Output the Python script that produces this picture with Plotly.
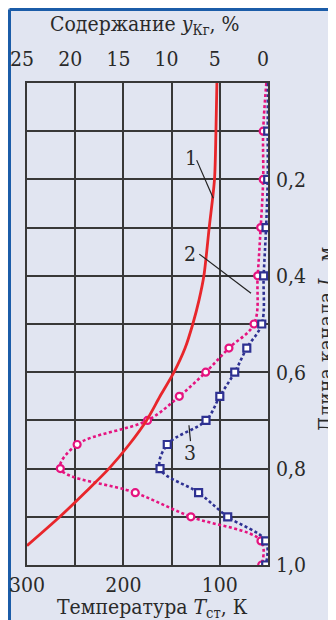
import plotly.graph_objects as go

# ---------------- data ----------------
# Curve 1: content y_Kr (%) vs channel length L (m)  -> top axis
L1 = [0.0, 0.1, 0.2, 0.3, 0.4, 0.45, 0.5, 0.55, 0.6, 0.65, 0.7, 0.75, 0.8, 0.85, 0.9, 0.96]
PCT1 = [5.3, 5.4, 5.55, 6.1, 6.65, 7.15, 7.8, 8.6, 9.75, 11.2, 12.6, 14.4, 16.5, 19.0, 21.6, 25.0]

# Curves 2 and 3: wall temperature T_st (K) vs L (m) -> bottom axis
L_pts = [0.1, 0.2, 0.3, 0.4, 0.5, 0.55, 0.6, 0.65, 0.7, 0.75, 0.8, 0.85, 0.9, 0.95, 1.0]
T2 = [55, 55, 57.6, 60.7, 64.5, 90.5, 114.6, 142, 175, 248, 265.4, 187.7, 130, 57.3, 56.5]
T3 = [50.3, 50.3, 52, 54.5, 56.5, 72, 84.5, 100, 114.3, 154.5, 162, 122, 91.8, 52.4, 52.4]
L_start = 0.0
T2_start = 51.7
T3_start = 50.0

T_ticks = [300, 250, 200, 150, 100, 50]
T_labels = ["300", "", "200", "", "100", ""]
Y_ticks = [25, 20, 15, 10, 5, 0]
Y_labels = ["25", "20", "15", "10", "5", "0"]
L_ticks = [0.0, 0.1, 0.2, 0.3, 0.4, 0.5, 0.6, 0.7, 0.8, 0.9, 1.0]
L_labels = ["", "", "0,2", "", "0,4", "", "0,6", "", "0,8", "", "1,0"]

# ---------------- layout geometry (window pixels) ----------------
OFF = 8                                    # default page body margin
PX_L, PX_R, PX_T, PX_B = 27, 268, 83, 565  # plot area in the 336x620 window
W, H = 336 - OFF, 620 - OFF
ML, MR, MT, MB = PX_L - OFF, OFF + W - PX_R, PX_T - OFF, OFF + H - PX_B

BG = "#E1E5F1"
GRID = "#383838"
TXT = "#2a2a2a"
RED = "#E8262B"
MAG = "#E5137F"
NAVY = "#2E3192"
BORDER = "#1B5CA8"
FONT = "DejaVu Serif Condensed, DejaVu Serif"
FS = 21


def px(xw):
    return (xw - PX_L) / (PX_R - PX_L)


def py(yw):
    return (PX_B - yw) / (PX_B - PX_T)


fig = go.Figure()

fig.add_trace(go.Scatter(x=PCT1, y=L1, xaxis="x2", yaxis="y", mode="lines",
                         line=dict(color=RED, width=2.8, shape="spline", smoothing=0.8),
                         hoverinfo="skip", showlegend=False))
fig.add_trace(go.Scatter(x=[T2_start] + T2, y=[L_start] + L_pts, mode="lines",
                         line=dict(color=MAG, width=2.6, dash="3px,2.5px", shape="spline", smoothing=1.0),
                         showlegend=False))
fig.add_trace(go.Scatter(x=[T3_start] + T3, y=[L_start] + L_pts, mode="lines",
                         line=dict(color=NAVY, width=2.6, dash="3px,2.5px", shape="spline", smoothing=1.0),
                         showlegend=False))
fig.add_trace(go.Scatter(x=T2, y=L_pts, mode="markers",
                         marker=dict(symbol="circle", size=7, color="white",
                                     line=dict(color=MAG, width=2.2)),
                         showlegend=False))
fig.add_trace(go.Scatter(x=T3, y=L_pts, mode="markers",
                         marker=dict(symbol="square", size=7, color="white",
                                     line=dict(color=NAVY, width=2.2)),
                         showlegend=False))

shapes = [
    dict(type="rect", xref="paper", yref="paper", x0=px(8), x1=px(345), y0=py(630), y1=py(8),
         fillcolor=BG, line=dict(width=0), layer="below"),
    dict(type="line", xref="paper", yref="paper", x0=px(9.5), x1=px(345), y0=py(9.5), y1=py(9.5),
         line=dict(color=BORDER, width=3), layer="below"),
    dict(type="line", xref="paper", yref="paper", x0=px(9.5), x1=px(9.5), y0=py(9.5), y1=py(630),
         line=dict(color=BORDER, width=3), layer="below"),
    dict(type="line", xref="x", yref="y", x0=124, y0=0.160, x1=106.8, y1=0.239,
         line=dict(color="#222", width=1.2)),
    dict(type="line", xref="x", yref="y", x0=121.3, y0=0.355, x1=67.6, y1=0.436,
         line=dict(color="#222", width=1.2)),
    dict(type="line", xref="x", yref="y", x0=130.4, y0=0.743, x1=132, y1=0.71,
         line=dict(color="#222", width=1.2)),
]

ann_font = dict(family=FONT, size=FS, color=TXT)
annotations = [
    dict(x=130, y=0.155, xref="x", yref="y", text="1", showarrow=False, font=ann_font,
         xanchor="center", yanchor="middle"),
    dict(x=130.4, y=0.354, xref="x", yref="y", text="2", showarrow=False, font=ann_font,
         xanchor="center", yanchor="middle"),
    dict(x=130.4, y=0.767, xref="x", yref="y", text="3", showarrow=False, font=ann_font,
         xanchor="center", yanchor="middle"),
    dict(x=px(145), y=py(25), xref="paper", yref="paper",
         text="Содержание <i>y</i><sub>Кг</sub>, %", showarrow=False, font=ann_font,
         xanchor="center", yanchor="middle"),
    dict(x=px(152), y=py(608), xref="paper", yref="paper",
         text="Температура <i>T</i><sub>ст</sub>, К", showarrow=False, font=ann_font,
         xanchor="center", yanchor="middle"),
    dict(x=px(326), y=py(339), xref="paper", yref="paper", textangle=-90,
         text="Длина канала <i>L</i>, м", showarrow=False, font=ann_font,
         xanchor="center", yanchor="middle"),
]

tick_font = dict(family=FONT, size=FS, color=TXT)

fig.update_layout(
    width=W, height=H, autosize=False,
    margin=dict(l=ML, r=MR, t=MT, b=MB, pad=0, autoexpand=False),
    paper_bgcolor="white", plot_bgcolor="rgba(0,0,0,0)",
    shapes=shapes, annotations=annotations,
    xaxis=dict(range=[300, 50], tickmode="array", tickvals=T_ticks, ticktext=T_labels,
               showgrid=True, gridcolor=GRID, gridwidth=1.5, zeroline=False,
               showline=True, linecolor=GRID, linewidth=1.5, mirror=True, automargin=False,
               ticks="", tickfont=tick_font, ticklabelstandoff=0, ticklabeloverflow="allow",
               fixedrange=True),
    xaxis2=dict(range=[25, 0], overlaying="x", side="top", anchor="y", automargin=False,
                tickmode="array", tickvals=Y_ticks, ticktext=Y_labels,
                showgrid=False, zeroline=False, showline=False, ticks="",
                tickfont=tick_font, ticklabelstandoff=12, ticklabelshift=5,
                ticklabeloverflow="allow", fixedrange=True),
    yaxis=dict(range=[1.0, 0.0], side="right", tickmode="array", tickvals=L_ticks, ticktext=L_labels,
               showgrid=True, gridcolor=GRID, gridwidth=1.5, zeroline=False, automargin=False,
               showline=True, linecolor=GRID, linewidth=1.5, mirror=True,
               ticks="", tickfont=tick_font, ticklabelstandoff=2, ticklabeloverflow="allow",
               fixedrange=True),
    font=dict(family=FONT, color=TXT),
)

fig.write_html("out.html")
